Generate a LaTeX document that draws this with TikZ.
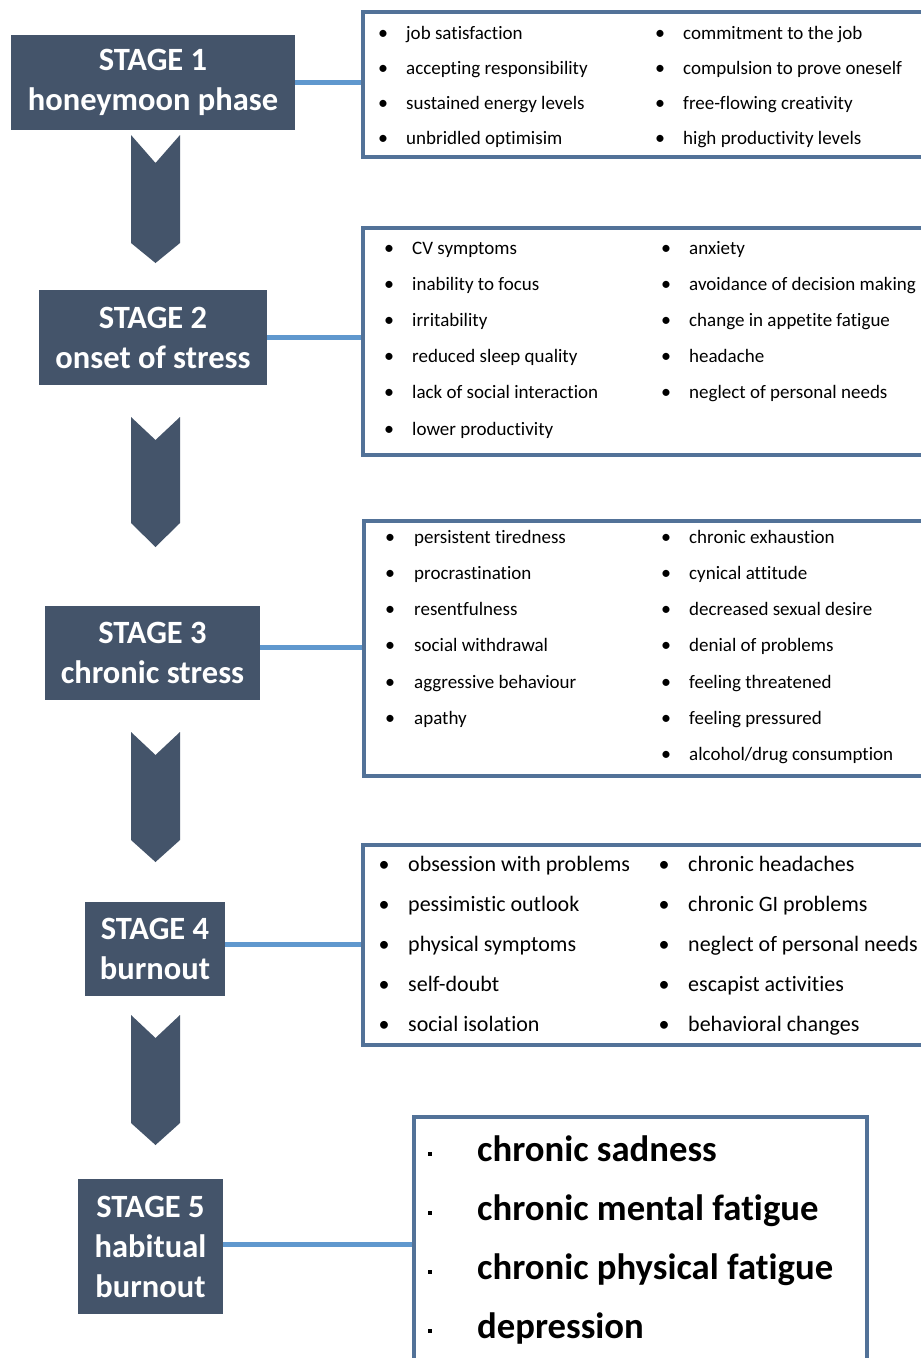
\documentclass[tikz,border=0pt]{standalone}
\usepackage{fontspec}
\setmainfont{Carlito}[Ligatures=NoCommon]
\definecolor{stagecol}{RGB}{68,84,106}
\definecolor{conncol}{RGB}{96,152,206}
\definecolor{boxcol}{RGB}{82,114,152}
\newcommand\mychevron[5]{% x-left, top, notch, side-bottom, tip
  \fill[chevfill] (#1,#2) -- ({#1+24.5},#3) -- ({#1+49},#2) -- ({#1+49},#4) -- ({#1+24.5},#5) -- (#1,#4) -- cycle;}
\begin{document}
\begin{tikzpicture}[x=1pt,y=-1pt,
  stagebox/.style={fill=stagecol, text=white, font=\bfseries\fontsize{32.5}{40}\selectfont, align=center, inner sep=0pt},
  listbox/.style={draw=boxcol, line width=3.2pt, inner sep=0pt},
  conn/.style={draw=conncol, line width=5pt},
  chevfill/.style={fill=stagecol},
  itemA/.style={anchor=base west, inner sep=0pt, font=\fontsize{19}{22}\selectfont},
  itemB/.style={anchor=base west, inner sep=0pt, font=\fontsize{22}{26}\selectfont},
  itemC/.style={anchor=base west, inner sep=0pt, font=\bfseries\fontsize{36.7}{40}\selectfont},
  bulA/.style={anchor=base, inner sep=0pt, font=\fontsize{20}{22}\selectfont},
  bulB/.style={anchor=base, inner sep=0pt, font=\fontsize{22}{24}\selectfont},
  sqbul/.style={fill=black, inner sep=0pt, minimum size=4.5pt}]
\clip (0,0) rectangle (921,1358);
\fill[white] (0,0) rectangle (921,1358);

% stage boxes
\node[stagebox, minimum width=284pt, minimum height=95pt] (s1) at (153,82.5) {STAGE 1\\honeymoon phase};
\node[stagebox, minimum width=228pt, minimum height=95pt] (s2) at (153,337.5) {STAGE 2\\onset of stress};
\node[stagebox, minimum width=215pt, minimum height=94pt] (s3) at (152.5,653) {STAGE 3\\chronic stress};
\node[stagebox, minimum width=140pt, minimum height=94pt] (s4) at (155,949) {STAGE 4\\burnout};
\node[stagebox, minimum width=145pt, minimum height=135pt] (s5) at (150.5,1246.5) {STAGE 5\\habitual\\burnout};

% list boxes
\node[listbox, minimum width=580pt, minimum height=145pt] (l1) at (653,84.5) {};
\node[listbox, minimum width=580pt, minimum height=227pt] (l2) at (653,341.5) {};
\node[listbox, minimum width=579pt, minimum height=255pt] (l3) at (653.5,648.5) {};
\node[listbox, minimum width=580pt, minimum height=200pt] (l4) at (653,945) {};
\node[listbox, minimum width=453pt, minimum height=260pt] (l5) at (640.5,1247) {};

% connectors
\draw[conn] (s1.east) -- (s1.east -| l1.west);
\draw[conn] (s2.east) -- (s2.east -| l2.west);
\draw[conn] ([yshift=6pt]s3.east) -- ([yshift=6pt]s3.east -| l3.west);
\draw[conn] ([yshift=5pt]s4.east) -- ([yshift=5pt]s4.east -| l4.west);
\draw[conn] ([yshift=2pt]s5.east) -- ([yshift=2pt]s5.east -| l5.west);

% chevrons
\mychevron{131}{135}{163}{243}{263}
\mychevron{131}{417}{440}{523}{547}
\mychevron{131}{732}{755}{840}{862}
\mychevron{131}{1015}{1038}{1123}{1145}

% list 1
\foreach \t [count=\i from 0] in {job satisfaction, accepting responsibility, sustained energy levels, unbridled optimisim}{
  \node[bulA] at (383,{33+35.3*\i+6}) {•};
  \node[itemA] (l1a\i) at (406,{33+35.3*\i+6}) {\t};}
\foreach \t [count=\i from 0] in {commitment to the job, compulsion to prove oneself, free-flowing creativity, high productivity levels}{
  \node[bulA] at (660,{33+35.3*\i+6}) {•};
  \node[itemA] (l1b\i) at (683,{33+35.3*\i+6}) {\t};}

% list 2
\foreach \t [count=\i from 0] in {CV symptoms, inability to focus, irritability, reduced sleep quality, lack of social interaction, lower productivity}{
  \node[bulA] at (389,{248+36.2*\i+6}) {•};
  \node[itemA] (l2a\i) at (412,{248+36.2*\i+6}) {\t};}
\foreach \t [count=\i from 0] in {anxiety, avoidance of decision making, change in appetite fatigue, headache, neglect of personal needs}{
  \node[bulA] at (666,{248+36.2*\i+6}) {•};
  \node[itemA] (l2b\i) at (689,{248+36.2*\i+6}) {\t};}

% list 3
\foreach \t [count=\i from 0] in {persistent tiredness, procrastination, resentfulness, social withdrawal, aggressive behaviour, apathy}{
  \node[bulA] at (390,{537+36.3*\i+6}) {•};
  \node[itemA] (l3a\i) at (414,{537+36.3*\i+6}) {\t};}
\foreach \t [count=\i from 0] in {chronic exhaustion, cynical attitude, decreased sexual desire, denial of problems, feeling threatened, feeling pressured, alcohol/drug consumption}{
  \node[bulA] at (666,{537+36.3*\i+6}) {•};
  \node[itemA] (l3b\i) at (689,{537+36.3*\i+6}) {\t};}

% list 4
\foreach \t [count=\i from 0] in {obsession with problems, pessimistic outlook, physical symptoms, self-doubt, social isolation}{
  \node[bulB] at (384,{864+40*\i+7}) {•};
  \node[itemB] (l4a\i) at (408,{864+40*\i+7}) {\t};}
\foreach \t [count=\i from 0] in {chronic headaches, chronic GI problems, neglect of personal needs, escapist activities, behavioral changes}{
  \node[bulB] at (664,{864+40*\i+7}) {•};
  \node[itemB] (l4b\i) at (688,{864+40*\i+7}) {\t};}

% list 5
\foreach \t [count=\i from 0] in {chronic sadness, chronic mental fatigue, chronic physical fatigue, depression}{
  \node[sqbul] at (430,{1154+59*\i}) {};
  \node[itemC] (l5a\i) at (477,{1150+59*\i+11}) {\t};}
\end{tikzpicture}
\end{document}
